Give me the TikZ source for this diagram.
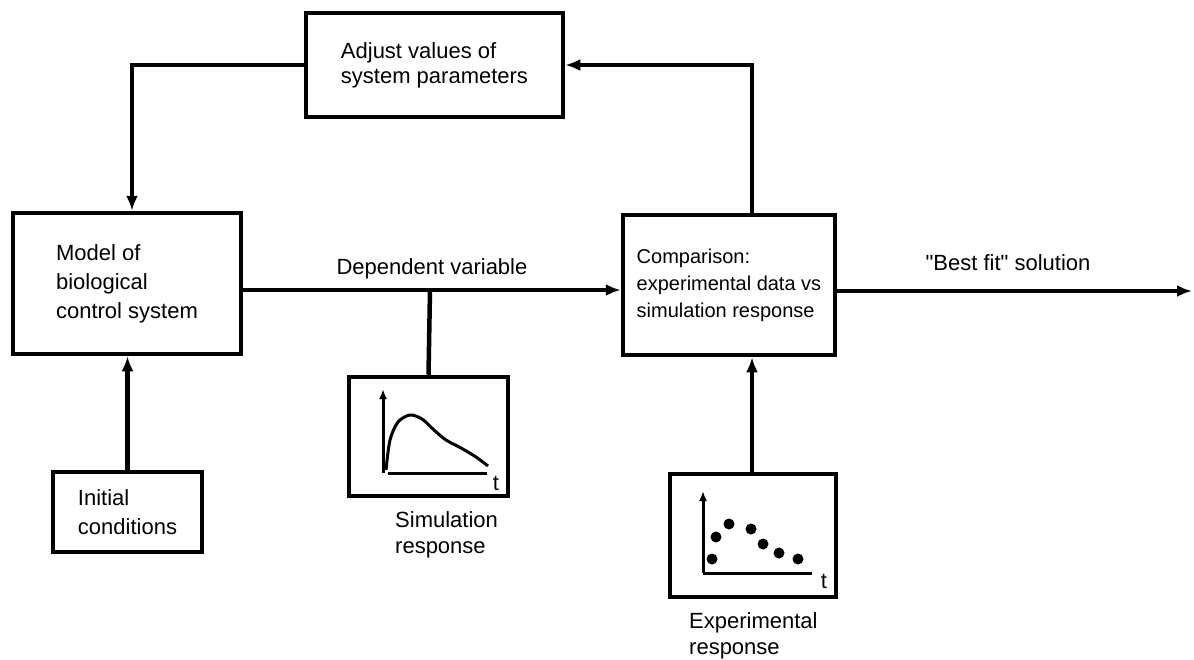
\documentclass[tikz,border=0pt]{standalone}
\usepackage{xcolor}
\usepackage{tikz}
\usepackage{fontspec}
\setmainfont{Liberation Sans}
\usetikzlibrary{arrows.meta}

\begin{document}
\begin{tikzpicture}[x=1pt,y=-1pt,
	blk/.style={draw,line width=4.5pt,align=left,inner sep=0pt,font=\fontsize{22}{29}\selectfont},
	lbl/.style={align=left,inner sep=0pt,font=\fontsize{22}{26}\selectfont},
	con/.style={line width=4.5pt},
	arr/.style={con,-{Latex[length=15pt,width=12pt]}},
	ax/.style={line width=3pt},
	dot/.style={fill=black}]
	\newcommand\dv{290} % dependent variable line
	\newcommand\lx{132}
	\newcommand\rx{752}
	\useasboundingbox (0,0) rectangle (1194,659);

	% boxes
	\node[blk,minimum width=257pt,minimum height=104pt,font=\fontsize{22}{25}\selectfont] (adj) at (434.5,65) {Adjust values of\\system parameters};
	\node[blk,minimum width=228pt,minimum height=141pt] (model) at (127,283.5) {Model of\\biological\\control system};
	\node[blk,minimum width=212pt,minimum height=140pt,font=\fontsize{20}{27}\selectfont] (comp) at (729,285) {Comparison:\\experimental data vs\\simulation response};
	\node[blk,minimum width=149pt,minimum height=80pt] (init) at (127.5,512) {Initial\\conditions};
	\node[blk,minimum width=159pt,minimum height=119pt] (sim) at (428.5,436.5) {};
	\node[blk,minimum width=166pt,minimum height=123pt] (exp) at (753,535.5) {};

	\coordinate (tl) at (\lx,65);
	\coordinate (tr) at (\rx,65);
	\coordinate (br) at (430,\dv);
	\coordinate (out) at (1192,291);

	% connectors
	\draw[arr] (adj.west) -- (tl) -- (tl |- model.north);
	\draw[arr] (tr |- comp.north) -- (tr) -- (adj.east);
	\draw[arr] (init.north) -- (init.north |- model.south);
	\draw[arr] (model.east |- br) -- node[lbl,above=9pt] (dvl) {Dependent variable} (comp.west |- br);
	\draw[con] (sim.north) -- (br);
	\draw[arr] (exp.north -| tr) -- (comp.south -| tr);
	\draw[arr] (comp.east |- out) -- (out);
	\node[lbl] (fit) at (1008,263) {\textquotedbl Best fit\textquotedbl{} solution};

	% simulation graph
	\draw[ax,-{Latex[length=10pt,width=8pt]}] (383,473) -- (383,389);
	\draw[ax] (388,473) -- (487,473);
	\draw[ax] plot[smooth] coordinates {(386,470) (390,440) (398,422) (410,415) (422,419) (434,430) (446,440) (461,448) (476,457) (488,466)};
	\node[lbl] (st) at (496,483) {t};
	\node[lbl,anchor=north west] (siml) at (395,511) {Simulation\\response};

	% experimental graph
	\draw[ax,-{Latex[length=10pt,width=8pt]}] (703,573) -- (703,491);
	\draw[ax] (703,573) -- (812,573);
	\foreach \px/\py in {712/559, 716/537, 729/524, 751/529, 763/544, 779/553, 798/559}
		\fill[dot] (\px,\py) circle (5.5pt);
	\node[lbl] (et) at (824,581) {t};
	\node[lbl,anchor=north west] (expl) at (689,612) {Experimental\\response};
\end{tikzpicture}
\end{document}
